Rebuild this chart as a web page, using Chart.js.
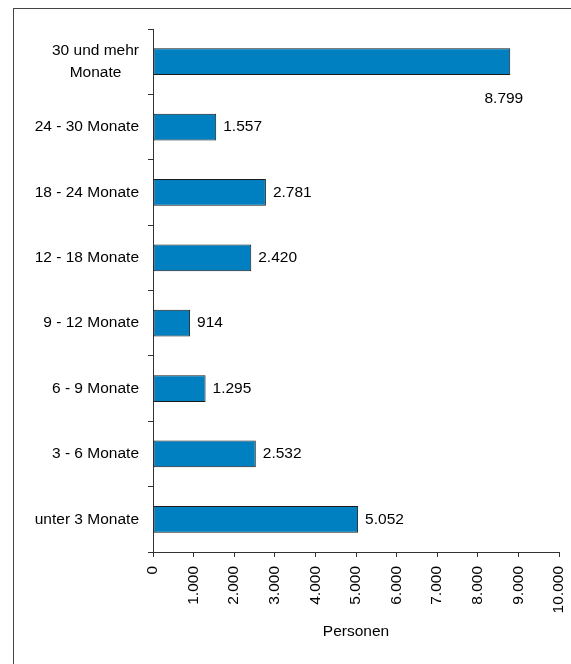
<!DOCTYPE html>
<html lang="de">
<head>
<meta charset="utf-8">
<title>Personen nach Dauer</title>
<script src="https://cdn.jsdelivr.net/npm/chart.js@4/dist/chart.umd.min.js"></script>
<style>
  html, body { margin: 0; padding: 0; background: #fff; }
  #wrap { position: relative; width: 571px; height: 664px; }
  canvas { display: block; }
</style>
</head>
<body>
<div id="wrap"><canvas id="chart" width="571" height="664"></canvas></div>
<script>
// Kategorien (von oben nach unten) und Anzahl Personen
const categories = [
  ['30 und mehr', 'Monate'],
  '24 - 30 Monate',
  '18 - 24 Monate',
  '12 - 18 Monate',
  '9 - 12 Monate',
  '6 - 9 Monate',
  '3 - 6 Monate',
  'unter 3 Monate'
];
const personen = [8799, 1557, 2781, 2420, 914, 1295, 2532, 5052];
const xTickLabels = ['0', '1.000', '2.000', '3.000', '4.000', '5.000', '6.000', '7.000', '8.000', '9.000', '10.000'];
const xTitle = 'Personen';

const FONT = '"Liberation Sans", Arial, sans-serif';
const FONT_SIZE = 15.5;
const AXIS_COLOR = '#333333';

function formatDE(v) {
  return String(v).replace(/\B(?=(\d{3})+(?!\d))/g, '.');
}

// Rahmen um die gesamte Grafik
const framePlugin = {
  id: 'frame',
  beforeDraw(chart) {
    const ctx = chart.ctx;
    ctx.save();
    ctx.fillStyle = '#ffffff';
    ctx.fillRect(0, 0, chart.width, chart.height);
    ctx.strokeStyle = '#444444';
    ctx.lineWidth = 1;
    ctx.strokeRect(13.5, 8.5, 700, 800);
    ctx.restore();
  }
};

// Kategoriebeschriftungen: rechtsbündig, mehrzeilige Beschriftung zentriert
const categoryLabelPlugin = {
  id: 'categoryLabels',
  afterDraw(chart) {
    const ctx = chart.ctx;
    const y = chart.scales.y;
    const right = y.right - 5 - 9;
    const lineH = 22;
    ctx.save();
    ctx.font = FONT_SIZE + 'px ' + FONT;
    ctx.fillStyle = '#000';
    ctx.textBaseline = 'middle';
    ctx.textAlign = 'center';
    chart.data.labels.forEach((lab, i) => {
      const lines = Array.isArray(lab) ? lab : [lab];
      const w = Math.max(...lines.map(l => ctx.measureText(l).width));
      const cx = right - w / 2;
      const cy = y.getPixelForValue(i);
      lines.forEach((l, k) => {
        ctx.fillText(l, cx, cy + (k - (lines.length - 1) / 2) * lineH);
      });
    });
    ctx.restore();
  }
};

// Wertbeschriftungen hinter den Balken; bei Platzmangel unter dem Balkenende
const valueLabelPlugin = {
  id: 'valueLabels',
  afterDatasetsDraw(chart) {
    const ctx = chart.ctx;
    const area = chart.chartArea;
    const meta = chart.getDatasetMeta(0);
    ctx.save();
    ctx.font = FONT_SIZE + 'px ' + FONT;
    ctx.fillStyle = '#000';
    ctx.textBaseline = 'middle';
    meta.data.forEach((bar, i) => {
      const txt = formatDE(chart.data.datasets[0].data[i]);
      const w = ctx.measureText(txt).width;
      if (bar.x + 7 + w > area.right - 10) {
        ctx.textAlign = 'right';
        ctx.fillText(txt, bar.x + 13, bar.y + bar.height / 2 + 24);
      } else {
        ctx.textAlign = 'left';
        ctx.fillText(txt, bar.x + 7, bar.y);
      }
    });
    ctx.restore();
  }
};

new Chart(document.getElementById('chart'), {
  type: 'bar',
  data: {
    labels: categories,
    datasets: [{
      data: personen,
      backgroundColor: '#0080C0',
      borderColor: '#1a1a1a',
      borderWidth: 1,
      borderSkipped: false,
      categoryPercentage: 1,
      barPercentage: 0.41
    }]
  },
  options: {
    indexAxis: 'y',
    responsive: false,
    animation: false,
    devicePixelRatio: 1,
    layout: { padding: { left: 0, top: 29, right: 12, bottom: 0 } },
    plugins: {
      legend: { display: false },
      tooltip: { enabled: false }
    },
    scales: {
      x: {
        type: 'linear',
        min: 0,
        max: 10000,
        ticks: {
          stepSize: 1000,
          minRotation: 90,
          maxRotation: 90,
          padding: 9,
          color: '#000',
          font: { family: FONT, size: FONT_SIZE },
          callback: (v, i) => xTickLabels[i]
        },
        grid: { drawOnChartArea: false, drawTicks: true, tickLength: 5, color: AXIS_COLOR },
        border: { display: true, color: AXIS_COLOR, width: 1 },
        title: {
          display: true,
          text: xTitle,
          color: '#000',
          font: { family: FONT, size: FONT_SIZE },
          padding: { top: 0, bottom: 23 }
        },
        afterFit(scale) {
          scale.height = 112;
          scale.paddingLeft = 0;
          scale.paddingRight = 0;
        }
      },
      y: {
        type: 'category',
        ticks: { display: false },
        grid: { drawOnChartArea: false, drawTicks: true, tickLength: 5, color: AXIS_COLOR, offset: true },
        border: { display: true, color: AXIS_COLOR, width: 1 },
        afterFit(scale) {
          scale.width = 153;
          scale.paddingTop = 0;
          scale.paddingBottom = 0;
        }
      }
    }
  },
  plugins: [framePlugin, categoryLabelPlugin, valueLabelPlugin]
});
</script>
</body>
</html>
